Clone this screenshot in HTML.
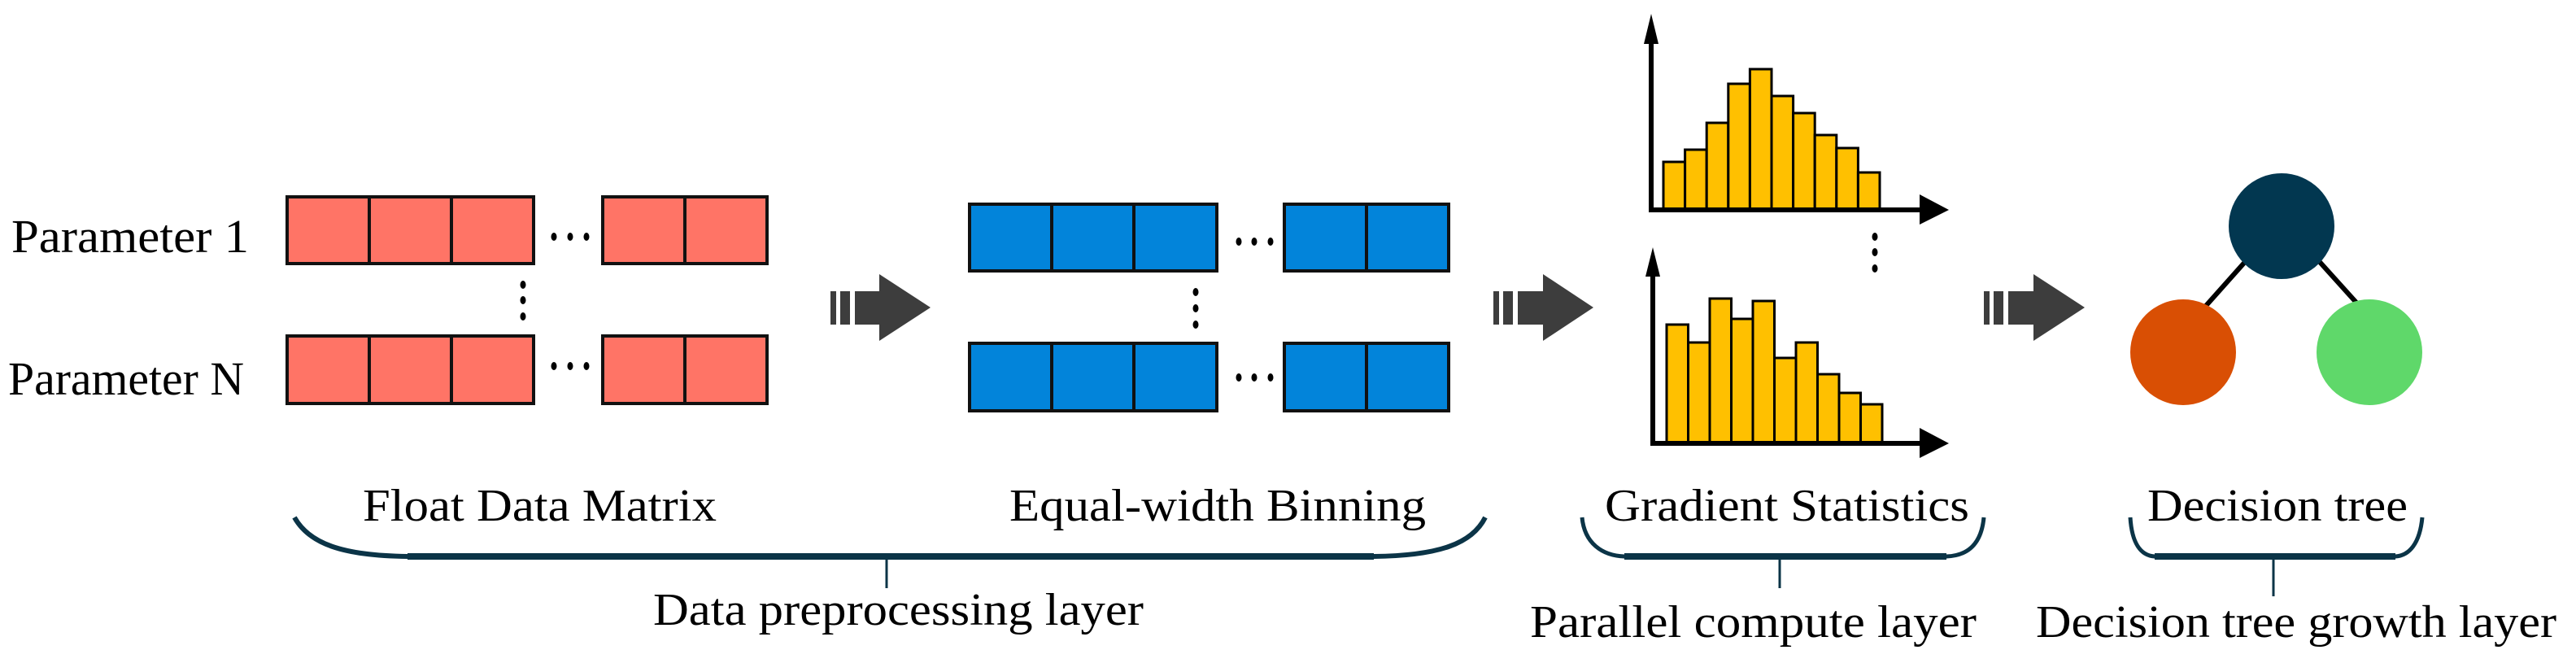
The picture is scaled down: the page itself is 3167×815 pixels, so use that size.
<!DOCTYPE html>
<html><head><meta charset="utf-8"><style>
html,body{margin:0;padding:0;background:#fff}
svg{display:block}
text{font-family:"Liberation Serif",serif;fill:#000}
</style></head><body>
<svg width="3167" height="815" viewBox="0 0 3167 815" xmlns="http://www.w3.org/2000/svg">
<g font-size="58">
<text x="14" y="310" textLength="292" lengthAdjust="spacingAndGlyphs">Parameter 1</text>
<text x="10" y="485" textLength="290" lengthAdjust="spacingAndGlyphs">Parameter N</text>
</g>
<g fill="#FF7466" stroke="#111" stroke-width="4">
<rect x="353" y="242" width="303" height="82"/><line x1="454" y1="242" x2="454" y2="324"/><line x1="555" y1="242" x2="555" y2="324"/>
<rect x="741" y="242" width="202" height="82"/><line x1="842" y1="242" x2="842" y2="324"/>
<rect x="353" y="413" width="303" height="83"/><line x1="454" y1="413" x2="454" y2="496"/><line x1="555" y1="413" x2="555" y2="496"/>
<rect x="741" y="413" width="202" height="83"/><line x1="842" y1="413" x2="842" y2="496"/>
</g>
<g fill="#0284DA" stroke="#111" stroke-width="4">
<rect x="1192" y="251" width="304" height="82"/><line x1="1293" y1="251" x2="1293" y2="333"/><line x1="1394" y1="251" x2="1394" y2="333"/>
<rect x="1579" y="251" width="202" height="82"/><line x1="1680" y1="251" x2="1680" y2="333"/>
<rect x="1192" y="422" width="304" height="83"/><line x1="1293" y1="422" x2="1293" y2="505"/><line x1="1394" y1="422" x2="1394" y2="505"/>
<rect x="1579" y="422" width="202" height="83"/><line x1="1680" y1="422" x2="1680" y2="505"/>
</g>
<g fill="#000">
<ellipse cx="681" cy="291" rx="3.5" ry="5"/><ellipse cx="701" cy="291" rx="3.5" ry="5"/><ellipse cx="721" cy="291" rx="3.5" ry="5"/>
<ellipse cx="681" cy="450" rx="3.5" ry="5"/><ellipse cx="701" cy="450" rx="3.5" ry="5"/><ellipse cx="721" cy="450" rx="3.5" ry="5"/>
<ellipse cx="643" cy="350" rx="3.5" ry="5"/><ellipse cx="643" cy="369" rx="3.5" ry="5"/><ellipse cx="643" cy="389" rx="3.5" ry="5"/>
<ellipse cx="1523" cy="297" rx="3.5" ry="5"/><ellipse cx="1542" cy="297" rx="3.5" ry="5"/><ellipse cx="1562" cy="297" rx="3.5" ry="5"/>
<ellipse cx="1523" cy="464" rx="3.5" ry="5"/><ellipse cx="1542" cy="464" rx="3.5" ry="5"/><ellipse cx="1562" cy="464" rx="3.5" ry="5"/>
<ellipse cx="1470" cy="359" rx="3.5" ry="5"/><ellipse cx="1470" cy="379" rx="3.5" ry="5"/><ellipse cx="1470" cy="399" rx="3.5" ry="5"/>
<ellipse cx="2305" cy="291" rx="3.5" ry="5"/><ellipse cx="2305" cy="310" rx="3.5" ry="5"/><ellipse cx="2305" cy="330" rx="3.5" ry="5"/>
</g>
<g fill="#3D3D3D">
<g transform="translate(1021,0)"><rect x="0" y="358" width="7" height="41"/><rect x="12" y="358" width="12" height="41"/><rect x="30" y="358" width="32" height="41"/><polygon points="60,337 123,378 60,419"/></g>
<g transform="translate(1836,0)"><rect x="0" y="358" width="7" height="41"/><rect x="12" y="358" width="12" height="41"/><rect x="30" y="358" width="32" height="41"/><polygon points="61,337 123,378 61,419"/></g>
<g transform="translate(2439,0)"><rect x="0" y="358" width="7" height="41"/><rect x="12" y="358" width="12" height="41"/><rect x="30" y="358" width="32" height="41"/><polygon points="61,337 124,378 61,419"/></g>
</g>
<g fill="#FFC000" stroke="#000" stroke-width="3">
<rect x="2045" y="199" width="26.6" height="59"/><rect x="2071.6" y="184" width="26.6" height="74"/><rect x="2098.2" y="151" width="26.6" height="107"/><rect x="2124.8" y="103" width="26.6" height="155"/><rect x="2151.4" y="85" width="26.6" height="173"/><rect x="2178" y="118" width="26.6" height="140"/><rect x="2204.6" y="139" width="26.6" height="119"/><rect x="2231.2" y="166" width="26.6" height="92"/><rect x="2257.8" y="182" width="26.6" height="76"/><rect x="2284.4" y="212" width="26.6" height="46"/>
</g>
<g fill="#FFC000" stroke="#000" stroke-width="3">
<rect x="2049" y="399" width="26.5" height="146"/><rect x="2075.5" y="421" width="26.5" height="124"/><rect x="2102" y="367" width="26.5" height="178"/><rect x="2128.5" y="392" width="26.5" height="153"/><rect x="2155" y="370" width="26.5" height="175"/><rect x="2181.5" y="440" width="26.5" height="105"/><rect x="2208" y="421" width="26.5" height="124"/><rect x="2234.5" y="460" width="26.5" height="85"/><rect x="2261" y="483" width="26.5" height="62"/><rect x="2287.5" y="497" width="26.5" height="48"/>
</g>
<g stroke="#000" stroke-width="6" fill="none">
<line x1="2030" y1="50" x2="2030" y2="261"/><line x1="2027" y1="258" x2="2365" y2="258"/>
<line x1="2032" y1="336" x2="2032" y2="548"/><line x1="2029" y1="545" x2="2365" y2="545"/>
</g>
<g fill="#000">
<polygon points="2030,17 2021,54 2039,54"/><polygon points="2360,239 2396,258 2360,276"/>
<polygon points="2032,304 2023,340 2041,340"/><polygon points="2360,526 2396,545 2360,563"/>
</g>
<g stroke="#000" stroke-width="6"><line x1="2760" y1="322" x2="2711" y2="377"/><line x1="2851" y1="321" x2="2897" y2="372"/></g>
<circle cx="2805" cy="278" r="65" fill="#023750"/>
<circle cx="2684" cy="433" r="65" fill="#D94F04"/>
<circle cx="2913" cy="433" r="65" fill="#5FD86A"/>
<g font-size="56">
<text x="446" y="640" textLength="435" lengthAdjust="spacingAndGlyphs">Float Data Matrix</text>
<text x="1241" y="640" textLength="512" lengthAdjust="spacingAndGlyphs">Equal-width Binning</text>
<text x="1973" y="640" textLength="448" lengthAdjust="spacingAndGlyphs">Gradient Statistics</text>
<text x="2640" y="640" textLength="320" lengthAdjust="spacingAndGlyphs">Decision tree</text>
<text x="803" y="768" textLength="603" lengthAdjust="spacingAndGlyphs">Data preprocessing layer</text>
<text x="1881" y="783" textLength="549" lengthAdjust="spacingAndGlyphs">Parallel compute layer</text>
<text x="2503" y="783" textLength="640" lengthAdjust="spacingAndGlyphs">Decision tree growth layer</text>
</g>
<g fill="none" stroke="#0B3447">
<path d="M362,636 C380,668 420,683 501,684 L1689,684 C1770,683 1810,668 1826,636" stroke-width="6"/>
<line x1="501" y1="684" x2="1689" y2="684" stroke-width="8"/>
<line x1="1090" y1="686" x2="1090" y2="723" stroke-width="3"/>
<path d="M1945,636 C1948,668 1970,683 1997,684 L2393,684 C2420,683 2436,668 2439,636" stroke-width="5"/>
<line x1="1997" y1="684" x2="2393" y2="684" stroke-width="8"/>
<line x1="2188" y1="686" x2="2188" y2="723" stroke-width="3"/>
<path d="M2619,636 C2621,668 2632,683 2649,684 L2945,684 C2962,683 2975,668 2978,636" stroke-width="5"/>
<line x1="2649" y1="684" x2="2945" y2="684" stroke-width="8"/>
<line x1="2795" y1="686" x2="2795" y2="733" stroke-width="3"/>
</g>
</svg>
</body></html>
